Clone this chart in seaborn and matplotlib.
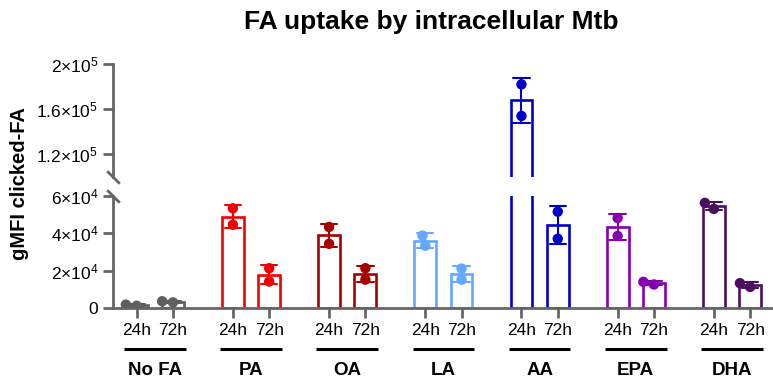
import numpy as np
import pandas as pd
import matplotlib
matplotlib.use("Agg")
import matplotlib.pyplot as plt
import seaborn as sns
from matplotlib.transforms import blended_transform_factory

# ---------------- data ----------------
groups = ["No FA", "PA", "OA", "LA", "AA", "EPA", "DHA"]
times = ["24h", "72h"]
uptake_24h_rep1 = [1.2e3, 53.4e3, 43.4e3, 38.8e3, 182.0e3, 48.2e3, 53.1e3]
uptake_24h_rep2 = [1.8e3, 44.6e3, 34.4e3, 33.4e3, 154.0e3, 38.6e3, 56.3e3]
uptake_72h_rep1 = [3.6e3, 21.3e3, 21.3e3, 21.1e3, 51.6e3, 12.6e3, 11.3e3]
uptake_72h_rep2 = [3.0e3, 14.2e3, 15.2e3, 15.2e3, 37.1e3, 14.0e3, 13.3e3]
colors = ["#5f5f5f", "#f50000", "#a80000", "#62a8ff", "#0000c8", "#8400b0", "#4a0f5e"]

upper_ticks = [1.2e5, 1.6e5, 2e5]
upper_labels = [r"$\mathregular{1.2{\times}10^{5}}$", r"$\mathregular{1.6{\times}10^{5}}$",
                r"$\mathregular{2{\times}10^{5}}$"]
lower_ticks = [0, 2e4, 4e4, 6e4]
lower_labels = ["0", r"$\mathregular{2{\times}10^{4}}$", r"$\mathregular{4{\times}10^{4}}$",
                r"$\mathregular{6{\times}10^{4}}$"]

GROUP_STEP = 2.65

rows = []
for gi, g in enumerate(groups):
    for ti, (r1, r2) in enumerate([(uptake_24h_rep1, uptake_24h_rep2),
                                   (uptake_72h_rep1, uptake_72h_rep2)]):
        for v in (r1[gi], r2[gi]):
            rows.append(dict(group=g, time=times[ti], pos=gi * GROUP_STEP + ti, value=v))
df = pd.DataFrame(rows)
positions = sorted(df["pos"].unique())
pos_labels = [times[i % 2] for i in range(len(positions))]

# ---------------- style ----------------
sns.set_theme(style="ticks")
plt.rcParams["font.family"] = ["Liberation Sans", "DejaVu Sans"]
plt.rcParams.update({
    "mathtext.fontset": "custom",
    "mathtext.rm": "Liberation Sans",
    "mathtext.it": "Liberation Sans:italic",
    "mathtext.bf": "Liberation Sans:bold",
    "text.color": "black",
    "axes.labelcolor": "black",
})
AXC = "#666666"

W, H = 773, 385
fig = plt.figure(figsize=(W / 100, H / 100), dpi=100)


def rect(l, t, r, b):
    return [l / W, 1 - b / H, (r - l) / W, (b - t) / H]


ax_top = fig.add_axes(rect(113, 64, 773, 177))
ax_bot = fig.add_axes(rect(113, 196, 773, 308))
palette = dict(zip(groups, colors))

for ax in (ax_top, ax_bot):
    sns.barplot(data=df, x="pos", y="value", hue="group", palette=palette,
                native_scale=True, errorbar="sd", capsize=0.45, fill=False,
                width=0.6, linewidth=1.9, err_kws={"linewidth": 1.5},
                dodge=False, legend=False, ax=ax)
    sns.swarmplot(data=df, x="pos", y="value", hue="group", palette=palette,
                  native_scale=True, size=7.5, dodge=False, legend=False, ax=ax,
                  zorder=5)
    ax.set_xlim(-0.653, 17.53)
    ax.set_xlabel("")
    ax.set_ylabel("")
    for s in ("top", "right"):
        ax.spines[s].set_visible(False)
    ax.spines["left"].set_color(AXC)
    ax.spines["left"].set_linewidth(2)
    ax.tick_params(axis="both", colors=AXC, width=2, length=7,
                   labelcolor="black", labelsize=12.5)

ax_top.set_ylim(1e5, 2e5)
ax_top.set_yticks(upper_ticks, upper_labels)
ax_top.spines["bottom"].set_visible(False)
ax_top.tick_params(axis="x", bottom=False, labelbottom=False)

ax_bot.set_ylim(0, 6e4)
ax_bot.set_yticks(lower_ticks, lower_labels)
ax_bot.spines["bottom"].set_color(AXC)
ax_bot.spines["bottom"].set_linewidth(2)
ax_bot.set_xticks(positions, pos_labels)
ax_bot.tick_params(axis="x", pad=4)

# axis break marks
kw = dict(marker=[(-1, 1), (1, -1)], markersize=9, linestyle="none",
          color=AXC, mec=AXC, mew=2, clip_on=False)
ax_top.plot([0], [0], transform=ax_top.transAxes, **kw)
ax_bot.plot([0], [1], transform=ax_bot.transAxes, **kw)

# group underlines and labels
trans = blended_transform_factory(ax_bot.transData, ax_bot.transAxes)
for gi, g in enumerate(groups):
    x0 = gi * GROUP_STEP
    ax_bot.plot([x0 - 0.35, x0 + 1.35], [-0.366, -0.366], transform=trans,
                color="black", lw=2.2, clip_on=False, solid_capstyle="butt")
    ax_bot.text(x0 + 0.5, -0.56, g, transform=trans, ha="center", va="center",
                fontsize=13.5, fontweight="bold", color="black")

fig.text(431.5 / W, 1 - 29 / H, "FA uptake by intracellular Mtb", ha="center",
         va="baseline", fontsize=19, fontweight="bold", color="black")
fig.text(20 / W, 1 - 184 / H, "gMFI clicked-FA", rotation=90, ha="center",
         va="center", fontsize=14.5, fontweight="bold", color="black")

fig.savefig("out.png", dpi=100)
